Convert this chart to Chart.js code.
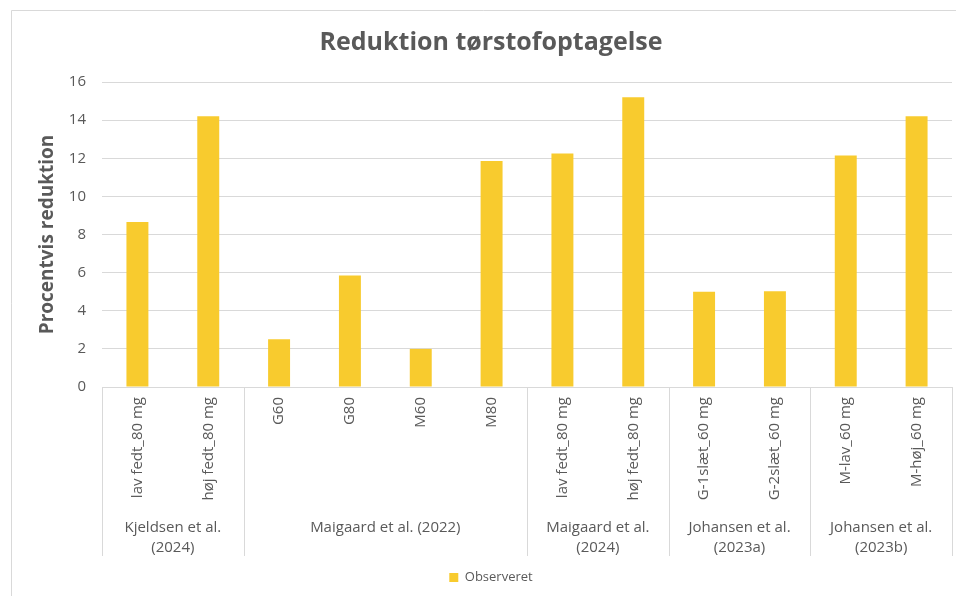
<!doctype html>
<html>
<head>
<meta charset="UTF-8">
<title>Reduktion tørstofoptagelse</title>
<script src="https://cdn.jsdelivr.net/npm/chart.js@4.4.1/dist/chart.umd.min.js"></script>
<style>
body{
	margin:0;
	background:#fff;
}
</style>
</head>
<body>

<canvas id="BarChart" width="956" height="596"></canvas>

<script>

// data
var labels = ['lav fedt_80 mg', 'høj fedt_80 mg', 'G60', 'G80', 'M60', 'M80',
	'lav fedt_80 mg', 'høj fedt_80 mg', 'G-1slæt_60 mg', 'G-2slæt_60 mg', 'M-lav_60 mg', 'M-høj_60 mg'];
var observeret = [8.65, 14.2, 2.5, 5.85, 2.0, 11.85, 12.25, 15.2, 5.0, 5.02, 12.15, 14.2];
var groupNames = [['Kjeldsen et al.', '(2024)'], ['Maigaard et al. (2022)'], ['Maigaard et al.', '(2024)'],
	['Johansen et al.', '(2023a)'], ['Johansen et al.', '(2023b)']];
var groupSizes = [2, 4, 2, 2, 2];
var yTicks = [0, 2, 4, 6, 8, 10, 12, 14, 16];

var textColor = '#595959';
var lineColor = '#D9D9D9';
Chart.defaults.font.family = '"Open Sans", sans-serif';

// frame round the chart
var framePlugin = {
	id: 'frame',
	beforeDraw: function(chart) {
		var ctx = chart.ctx;
		ctx.save();
		ctx.fillStyle = '#fff';
		ctx.fillRect(0, 0, chart.width, chart.height);
		ctx.strokeStyle = lineColor;
		ctx.lineWidth = 1;
		ctx.beginPath();
		ctx.moveTo(11.5, chart.height);
		ctx.lineTo(11.5, 10.5);
		ctx.lineTo(chart.width, 10.5);
		ctx.stroke();
		ctx.restore();
	}
};

// second row of the category axis: study names and separators
var groupPlugin = {
	id: 'groups',
	afterDraw: function(chart) {
		var ctx = chart.ctx;
		var x = chart.scales.x;
		var area = chart.chartArea;
		var top = area.bottom;
		var start = 0;
		ctx.save();
		ctx.strokeStyle = lineColor;
		ctx.lineWidth = 1;
		ctx.fillStyle = textColor;
		ctx.font = '15px "Open Sans", sans-serif';
		ctx.textAlign = 'center';
		ctx.textBaseline = 'middle';
		for (var g = 0; g < groupSizes.length; g++) {
			var end = start + groupSizes[g];
			var left = start == 0 ? area.left : (x.getPixelForValue(start - 1) + x.getPixelForValue(start)) / 2;
			var right = end == labels.length ? area.right : (x.getPixelForValue(end - 1) + x.getPixelForValue(end)) / 2;
			var xs = [left];
			if (end == labels.length) xs.push(right);
			xs.forEach(function(px) {
				var p = Math.round(px) + 0.5;
				ctx.beginPath();
				ctx.moveTo(p, top);
				ctx.lineTo(p, top + 169);
				ctx.stroke();
			});
			groupNames[g].forEach(function(line, i) {
				ctx.fillText(line, (left + right) / 2, top + 141 + i * 20);
			});
			start = end;
		}
		ctx.restore();
	}
};

var ctx = document.getElementById('BarChart');
var BarChart = new Chart(ctx, {
	type: 'bar',
	data: {
		labels: labels,
		datasets: [{
			label: 'Observeret',
			data: observeret,
			backgroundColor: '#F8CB2E',
			categoryPercentage: 1,
			barPercentage: 0.31
		}]
	},
	options: {
		responsive: false,
		animation: false,
		layout: {
			padding: {left: 30, right: 4, top: 0, bottom: 2}
		},
		plugins: {
			title: {
				display: true,
				text: 'Reduktion tørstofoptagelse',
				color: textColor,
				font: {size: 25, weight: 'bold'},
				padding: {top: 28, bottom: 24}
			},
			legend: {
				position: 'bottom',
				labels: {
					boxWidth: 9,
					boxHeight: 9,
					padding: 10,
					color: textColor,
					font: {size: 13}
				}
			},
			tooltip: {enabled: false}
		},
		scales: {
			x: {
				grid: {display: false, drawTicks: false},
				border: {display: true, color: lineColor},
				ticks: {
					autoSkip: false,
					minRotation: 90,
					maxRotation: 90,
					padding: 10,
					color: textColor,
					font: {size: 15}
				},
				afterFit: function(s) { s.height = 174; }
			},
			y: {
				min: 0,
				max: 16,
				grid: {color: lineColor, drawTicks: false},
				border: {display: false},
				ticks: {
					color: textColor,
					padding: 16,
					font: {size: 15}
				},
				afterBuildTicks: function(s) {
					s.ticks = yTicks.map(function(v) { return {value: v}; });
				},
				title: {
					display: true,
					text: 'Procentvis reduktion',
					color: textColor,
					font: {size: 19, weight: 'bold'},
					padding: {top: 6, bottom: 0}
				},
				afterFit: function(s) { s.width = 72; }
			}
		}
	},
	plugins: [framePlugin, groupPlugin]
});

</script>

</body>
</html>
